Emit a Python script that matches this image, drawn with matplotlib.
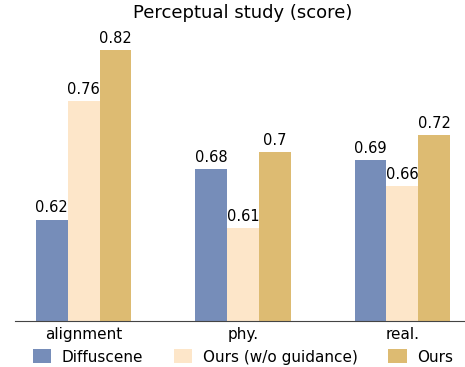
import matplotlib
matplotlib.use("Agg")
import matplotlib.pyplot as plt
import numpy as np

categories = ["alignment", "phy.", "real."]
series_names = ["Diffuscene", "Ours (w/o guidance)", "Ours"]
diffuscene = [0.62, 0.68, 0.69]
ours_wo_guidance = [0.76, 0.61, 0.66]
ours = [0.82, 0.70, 0.72]
colors = ["#768db9", "#fde6c9", "#ddbb72"]

fig = plt.figure(figsize=(4.65, 3.67), dpi=100)
ax = fig.add_axes([15 / 465, 46 / 367, 456 / 465, 296 / 367])

x = np.arange(len(categories))
width = 0.2
for i, (vals, name, c) in enumerate(zip([diffuscene, ours_wo_guidance, ours], series_names, colors)):
    bars = ax.bar(x + (i - 1) * width, vals, width, color=c, label=name)
    ax.bar_label(bars, labels=[f"{v:g}" for v in vals], padding=3, fontsize=10.5)

ax.set_ylim(0.5, 0.85)
ax.set_xlim(-0.43, 2.43)
ax.set_xticks(x)
ax.set_xticklabels(categories, fontsize=11)
ax.set_yticks([])
for s in ["top", "right", "left"]:
    ax.spines[s].set_visible(False)
ax.spines["bottom"].set_color("#444444")
ax.tick_params(axis="x", length=0, pad=4)
ax.set_title("Perceptual study (score)", fontsize=13, pad=5)

ax.legend(loc="center", bbox_to_anchor=(0.5, -36 / 296), ncol=3, frameon=False,
          fontsize=11, handlelength=1.2, handleheight=1.0, columnspacing=2.0,
          handletextpad=0.7, borderpad=0)

fig.savefig("out.png", dpi=100)
